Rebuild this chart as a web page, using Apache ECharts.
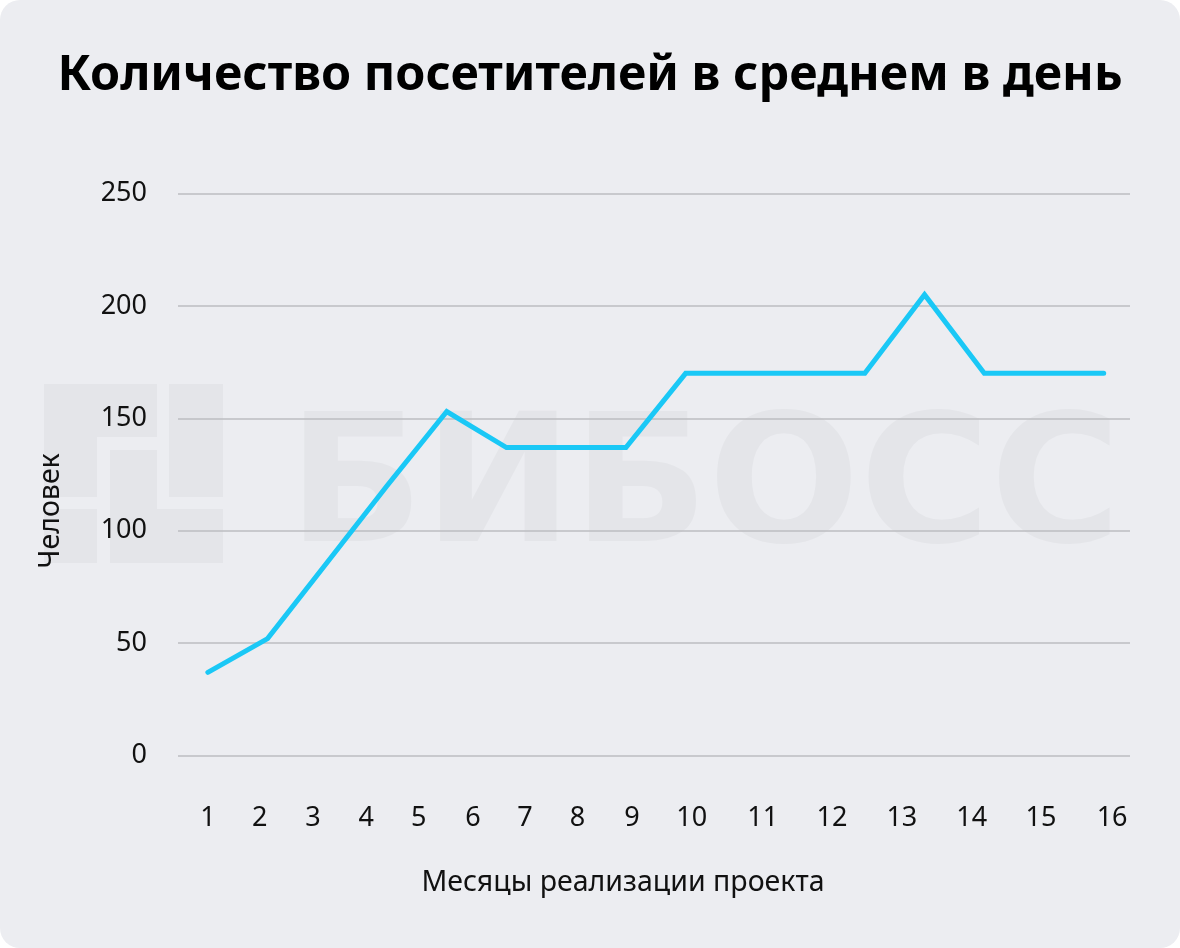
<!DOCTYPE html>
<html>
<head>
<meta charset="utf-8">
<script src="https://cdn.jsdelivr.net/npm/echarts@6/dist/echarts.min.js"></script>
<style>
  html, body { margin: 0; padding: 0; background: #ffffff; }
  #chart { width: 1180px; height: 948px; background: #ECEDF1; border-radius: 20px; overflow: hidden; }
</style>
</head>
<body>
<div id="chart"></div>
<script>
// ---- data ----
const titleText = 'Количество посетителей в среднем в день';
const xAxisName = 'Месяцы реализации проекта';
const yAxisName = 'Человек';
const watermarkText = 'БИБОСС';

// data points: month index of the series -> visitors per day
const pointIndex = [1, 2, 3, 4, 5, 6, 7, 8, 9, 10, 11, 12, 13, 14, 15, 16];
const visitors   = [37, 52, 86, 120, 153, 137, 137, 137, 170, 170, 170, 170, 205, 170, 170, 170];

// x-axis tick labels and where they sit on the axis (axis units)
const monthLabels = ['1','2','3','4','5','6','7','8','9','10','11','12','13','14','15','16'];
const labelAt = [1.00, 1.87, 2.76, 3.65, 4.53, 5.44, 6.31, 7.19, 8.10, 9.10, 10.29, 11.45, 12.62, 13.79, 14.95, 16.14];

const yTicks = [0, 50, 100, 150, 200, 250];

const chart = echarts.init(document.getElementById('chart'), null, { renderer: 'canvas' });

const seriesData = pointIndex.map((x, i) => [x, visitors[i]]);

const FONT = '"Noto Sans", "Open Sans", sans-serif';
const wmColor = '#E4E5E9';

const option = {
  backgroundColor: 'transparent',
  animation: false,
  title: {
    text: titleText,
    left: 'center',
    top: 47,
    textStyle: { fontFamily: FONT, fontSize: 48.5, fontWeight: 'bold', color: '#000000' }
  },
  grid: { left: 178, right: 50, top: 193.5, bottom: 192.5, containLabel: false },
  xAxis: {
    type: 'value',
    min: 0.5,
    max: 16.44,
    axisLine: { show: false },
    axisTick: { show: false },
    splitLine: { show: false },
    axisLabel: {
      customValues: labelAt,
      margin: 49,
      fontFamily: FONT,
      fontSize: 27,
      color: '#111111',
      formatter: function (v) {
        let best = 0, d = Infinity;
        labelAt.forEach((p, i) => { const dd = Math.abs(p - v); if (dd < d) { d = dd; best = i; } });
        return monthLabels[best];
      }
    }
  },
  yAxis: {
    type: 'value',
    min: yTicks[0],
    max: yTicks[yTicks.length - 1],
    interval: 50,
    axisLine: { show: false },
    axisTick: { show: false },
    splitLine: { show: true, lineStyle: { color: '#BDBDC1', width: 1.5 } },
    axisLabel: { margin: 31, fontFamily: FONT, fontSize: 27, color: '#111111' }
  },
  graphic: [
    // watermark logo
    { type: 'rect', z: -10, shape: { x: 44, y: 384, width: 113, height: 53 }, style: { fill: wmColor } },
    { type: 'rect', z: -10, shape: { x: 44, y: 437, width: 53, height: 60 }, style: { fill: wmColor } },
    { type: 'rect', z: -10, shape: { x: 169, y: 384, width: 54, height: 113 }, style: { fill: wmColor } },
    { type: 'rect', z: -10, shape: { x: 44, y: 509, width: 53, height: 54 }, style: { fill: wmColor } },
    { type: 'rect', z: -10, shape: { x: 110, y: 450, width: 47, height: 59 }, style: { fill: wmColor } },
    { type: 'rect', z: -10, shape: { x: 110, y: 509, width: 113, height: 54 }, style: { fill: wmColor } },
    // watermark word
    { type: 'text', z: -10, x: 288, y: 495,
      style: { text: watermarkText, fill: wmColor, font: 'bold 178px "DejaVu Sans"', textAlign: 'left', textVerticalAlign: 'middle' } },
    // axis names
    { type: 'text', z: 5, x: 51, y: 511, rotation: Math.PI / 2,
      style: { text: yAxisName, fill: '#111111', font: '28.5px "Noto Sans"', textAlign: 'center', textVerticalAlign: 'middle' } },
    { type: 'text', z: 5, x: 623, y: 883,
      style: { text: xAxisName, fill: '#111111', font: '28.5px "Noto Sans"', textAlign: 'center', textVerticalAlign: 'middle' } }
  ],
  series: [{
    type: 'line',
    data: seriesData,
    showSymbol: false,
    symbol: 'none',
    lineStyle: { color: '#1AC8F6', width: 5, cap: 'round', join: 'miter' },
    z: 5
  }]
};

chart.setOption(option);
</script>
</body>
</html>
